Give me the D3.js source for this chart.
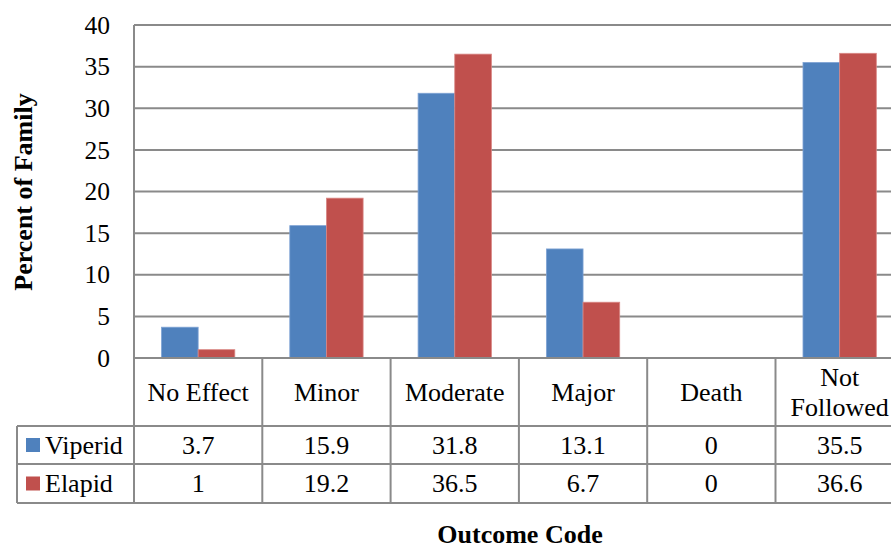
<!DOCTYPE html>
<html lang="en">
<head>
  <meta charset="UTF-8">
  <title>Percent of Family by Outcome Code</title>
  <script src="https://cdn.jsdelivr.net/npm/d3@7"></script>
  <style>
    html, body { margin: 0; padding: 0; background: #fff; overflow: hidden; }
    svg { display: block; }
    text { font-family: "Liberation Serif", "Times New Roman", serif; fill: #000; }
  </style>
</head>
<body>
<script>
  // ------------- Data -------------
  const categories = ["No Effect", "Minor", "Moderate", "Major", "Death", "Not Followed"];
  const seriesNames = ["Viperid", "Elapid"];
  const viperid = [3.7, 15.9, 31.8, 13.1, 0, 35.5];
  const elapid  = [1, 19.2, 36.5, 6.7, 0, 36.6];
  const yTicks = [0, 5, 10, 15, 20, 25, 30, 35, 40];
  const colors = ["#4F81BD", "#C0504D"];
  const strokes = ["#7FA3D4", "#D98784"];

  // ------------- Layout -------------
  const width = 891, height = 549;
  const plotLeft = 134, plotTop = 25, plotBottom = 358;
  const plotRight = plotLeft + 6 * 128.3;   // runs past the right edge, like the source
  const rowH = [68, 38, 39];               // header, viperid, elapid rows
  const legendLeft = 17;
  const gridColor = "#8A8A8A";

  const svg = d3.select("body").append("svg")
    .attr("width", width).attr("height", height);

  const x = d3.scaleBand().domain(categories).range([plotLeft, plotRight]).padding(0);
  const xs = d3.scaleBand().domain(seriesNames).range([0, x.bandwidth()])
    .paddingInner(0).paddingOuter(0.75);
  const y = d3.scaleLinear().domain([0, 40]).range([plotBottom, plotTop]);

  // gridlines
  svg.append("g")
    .selectAll("line").data(yTicks).join("line")
      .attr("x1", plotLeft).attr("x2", width)
      .attr("y1", d => y(d)).attr("y2", d => y(d))
      .attr("stroke", gridColor).attr("stroke-width", 2);

  // tick labels
  svg.append("g")
    .selectAll("text").data(yTicks).join("text")
      .attr("x", 110).attr("y", d => y(d))
      .attr("dy", "0.34em")
      .attr("text-anchor", "end")
      .attr("font-size", 25.5)
      .text(d => d);

  // bars
  const series = [viperid, elapid];
  series.forEach((vals, si) => {
    svg.append("g")
      .selectAll("rect").data(vals).join("rect")
        .attr("x", (d, i) => x(categories[i]) + xs(seriesNames[si]))
        .attr("y", d => y(d))
        .attr("width", xs.bandwidth())
        .attr("height", d => y(0) - y(d))
        .attr("fill", colors[si])
        .attr("stroke", d => d > 0 ? strokes[si] : "none")
        .attr("stroke-width", 0.8);
  });

  // ------------- Data table -------------
  const tableTop = plotBottom;
  const r1 = tableTop + rowH[0], r2 = r1 + rowH[1], r3 = r2 + rowH[2];
  const tbl = svg.append("g").attr("stroke", gridColor).attr("stroke-width", 2);

  // y axis line down through the table
  tbl.append("line").attr("x1", plotLeft).attr("x2", plotLeft)
    .attr("y1", plotTop).attr("y2", r3);
  // horizontal rows
  [[plotLeft, tableTop], [legendLeft, r1], [legendLeft, r2], [legendLeft, r3]].forEach(([x0, yy]) => {
    tbl.append("line").attr("x1", x0).attr("x2", width).attr("y1", yy).attr("y2", yy);
  });
  // legend column left edge
  tbl.append("line").attr("x1", legendLeft).attr("x2", legendLeft).attr("y1", r1).attr("y2", r3);
  // category separators
  categories.forEach(c => {
    const xe = x(c) + x.bandwidth();
    tbl.append("line").attr("x1", xe).attr("x2", xe).attr("y1", tableTop).attr("y2", r3);
  });

  // header labels
  const hdr = svg.append("g").attr("font-size", 26).attr("text-anchor", "middle");
  categories.forEach(c => {
    const cx = x(c) + x.bandwidth() / 2;
    const words = c === "Not Followed" ? ["Not", "Followed"] : [c];
    const t = hdr.append("text").attr("x", cx);
    if (words.length === 1) {
      t.attr("y", tableTop + rowH[0] / 2).attr("dy", "0.34em").text(c);
    } else {
      t.attr("y", tableTop + rowH[0] / 2 - 15);
      words.forEach((w, k) => {
        t.append("tspan").attr("x", cx).attr("dy", k === 0 ? "0.34em" : 30).text(w);
      });
    }
  });

  // value rows with legend keys
  const rowMid = [r1 + rowH[1] / 2, r2 + rowH[2] / 2];
  series.forEach((vals, si) => {
    const ym = rowMid[si];
    svg.append("rect")
      .attr("x", 26).attr("y", ym - 7)
      .attr("width", 14).attr("height", 14)
      .attr("fill", colors[si]);
    svg.append("text")
      .attr("x", 45).attr("y", ym).attr("dy", "0.34em")
      .attr("font-size", 26)
      .text(seriesNames[si]);
    svg.append("g").attr("font-size", 26).attr("text-anchor", "middle")
      .selectAll("text").data(vals).join("text")
        .attr("x", (d, i) => x(categories[i]) + x.bandwidth() / 2)
        .attr("y", ym).attr("dy", "0.34em")
        .text(d => d);
  });

  // ------------- Axis titles -------------
  svg.append("text")
    .attr("transform", `translate(32, 192) rotate(-90)`)
    .attr("text-anchor", "middle")
    .attr("font-size", 26).attr("font-weight", "bold")
    .text("Percent of Family");

  svg.append("text")
    .attr("x", 520).attr("y", 543)
    .attr("text-anchor", "middle")
    .attr("font-size", 26).attr("font-weight", "bold")
    .text("Outcome Code");
</script>
</body>
</html>
